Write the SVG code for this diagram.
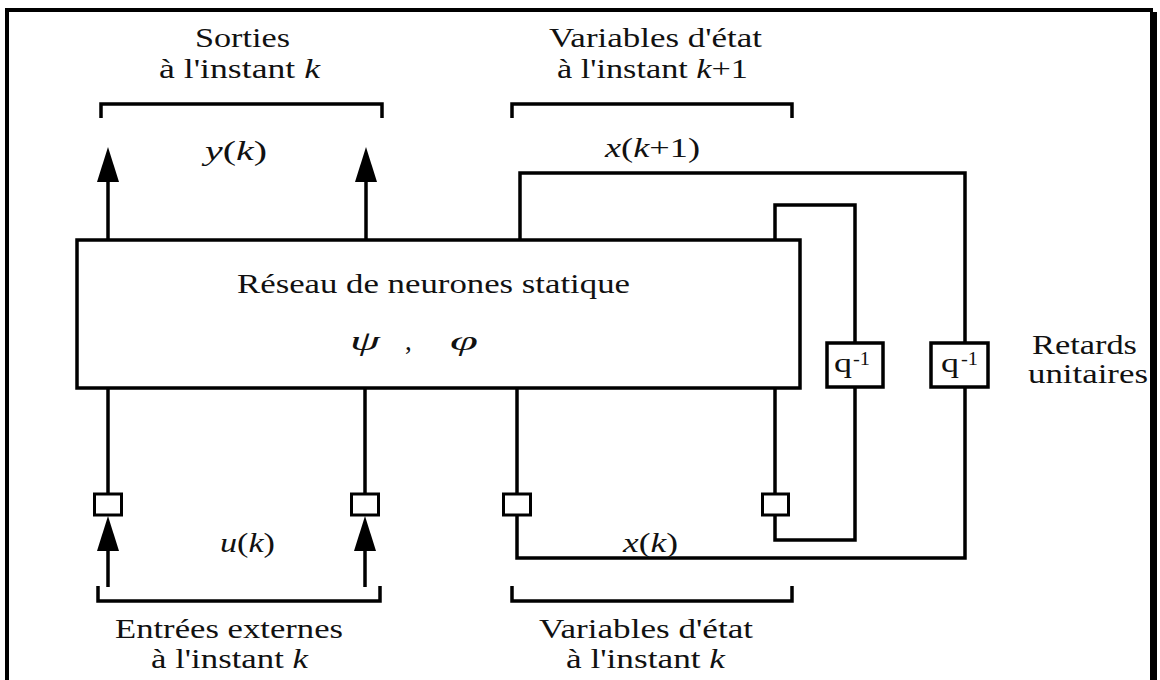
<svg xmlns="http://www.w3.org/2000/svg" width="1160" height="680" viewBox="0 0 1160 680">
<style>
  .ln { fill: none; stroke: #000; stroke-width: 3.5; stroke-linejoin: miter; }
  .bx { fill: #fff; stroke: #000; stroke-width: 3.5; }
  .sq { fill: #fff; stroke: #000; stroke-width: 3; }
  .t { font-family: 'Liberation Serif', 'DejaVu Serif', serif; font-size: 27px; fill: #111; }
  .i { font-style: italic; }
  .sup { font-family: 'Liberation Serif', 'DejaVu Serif', serif; font-size: 18px; fill: #111; }
</style>
<defs>
  <marker id="arr" markerUnits="userSpaceOnUse" viewBox="0 0 35 22" markerWidth="35" markerHeight="22" refX="0" refY="11" orient="auto">
    <path d="M0,0 L35,11 L0,22 z" fill="#000"/>
  </marker>
</defs>
<rect width="1160" height="680" fill="#fff"/>
<g id="frame" fill="#000">
  <rect x="5" y="8" width="1148" height="4"/>
  <rect x="5" y="8" width="4" height="672"/>
  <rect x="1150" y="12" width="7" height="668"/>
</g>

<g id="connectors">
  <path class="ln" d="M108,240 V182" marker-end="url(#arr)"/>
  <path class="ln" d="M366,240 V182" marker-end="url(#arr)"/>
  <path class="ln" d="M108,388 V493"/>
  <path class="ln" d="M365,388 V493"/>
  <path class="ln" d="M108,587 V551" marker-end="url(#arr)"/>
  <path class="ln" d="M365,587 V551" marker-end="url(#arr)"/>
  <path class="ln" d="M520,240 V173 H965 V342"/>
  <path class="ln" d="M965,387 V558 H517 V516"/>
  <path class="ln" d="M517,493 V388"/>
  <path class="ln" d="M775,240 V205 H855 V342"/>
  <path class="ln" d="M855,387 V540 H775 V516"/>
  <path class="ln" d="M775,493 V388"/>
  <path class="ln" d="M101,118 V104 H382 V118"/>
  <path class="ln" d="M512,118 V104 H792 V118"/>
  <path class="ln" d="M98,586 V601 H380 V586"/>
  <path class="ln" d="M512,586 V601 H792 V586"/>
</g>

<g id="network" font-family="Liberation Serif, serif">
  <rect class="bx" x="77" y="240" width="723" height="148"/>
  <text class="t" font-family="Liberation Serif" x="237" y="293" textLength="393" lengthAdjust="spacingAndGlyphs">Réseau de neurones statique</text>
  <text class="t i" x="350" y="350" textLength="30" lengthAdjust="spacingAndGlyphs">ψ</text>
  <text class="t" x="405" y="350">,</text>
  <text class="t i" x="450" y="350" textLength="28" lengthAdjust="spacingAndGlyphs">φ</text>
</g>

<g id="delay1">
  <rect class="bx" x="827" y="343" width="56" height="44"/>
  <text class="t" x="834" y="372" textLength="18" lengthAdjust="spacingAndGlyphs">q</text>
  <text class="sup" x="853" y="365" textLength="17" lengthAdjust="spacingAndGlyphs">-1</text>
</g>
<g id="delay2">
  <rect class="bx" x="931" y="343" width="57" height="44"/>
  <text class="t" x="941" y="372" textLength="18" lengthAdjust="spacingAndGlyphs">q</text>
  <text class="sup" x="961" y="365" textLength="17" lengthAdjust="spacingAndGlyphs">-1</text>
</g>

<g id="samplers">
  <rect class="sq" x="94.5" y="494" width="27" height="21"/>
  <rect class="sq" x="351.5" y="494" width="27" height="21"/>
  <rect class="sq" x="503.5" y="494" width="27" height="21"/>
  <rect class="sq" x="762.5" y="494" width="26" height="21"/>
</g>

<g id="labels">
  <text class="t" x="195" y="47" textLength="95" lengthAdjust="spacingAndGlyphs">Sorties</text>
  <text class="t" x="159" y="78" textLength="161" lengthAdjust="spacingAndGlyphs">à l'instant <tspan class="i">k</tspan></text>
  <text class="t" x="205" y="160" textLength="62" lengthAdjust="spacingAndGlyphs"><tspan class="i">y</tspan>(<tspan class="i">k</tspan>)</text>

  <text class="t" x="549" y="47" textLength="213" lengthAdjust="spacingAndGlyphs">Variables d'état</text>
  <text class="t" x="557" y="78" textLength="191" lengthAdjust="spacingAndGlyphs">à l'instant <tspan class="i">k</tspan>+1</text>
  <text class="t" x="605" y="157" textLength="95" lengthAdjust="spacingAndGlyphs"><tspan class="i">x</tspan>(<tspan class="i">k</tspan>+1)</text>

  <text class="t" x="1032" y="354" textLength="105" lengthAdjust="spacingAndGlyphs">Retards</text>
  <text class="t" x="1028" y="383" textLength="120" lengthAdjust="spacingAndGlyphs">unitaires</text>

  <text class="t" x="220" y="552" textLength="55" lengthAdjust="spacingAndGlyphs"><tspan class="i">u</tspan>(<tspan class="i">k</tspan>)</text>
  <text class="t" x="115" y="638" textLength="228" lengthAdjust="spacingAndGlyphs">Entrées externes</text>
  <text class="t" x="151" y="668" textLength="157" lengthAdjust="spacingAndGlyphs">à l'instant <tspan class="i">k</tspan></text>

  <text class="t" x="623" y="552" textLength="55" lengthAdjust="spacingAndGlyphs"><tspan class="i">x</tspan>(<tspan class="i">k</tspan>)</text>
  <text class="t" x="539" y="638" textLength="214" lengthAdjust="spacingAndGlyphs">Variables d'état</text>
  <text class="t" x="566" y="668" textLength="159" lengthAdjust="spacingAndGlyphs">à l'instant <tspan class="i">k</tspan></text>
</g>
</svg>
